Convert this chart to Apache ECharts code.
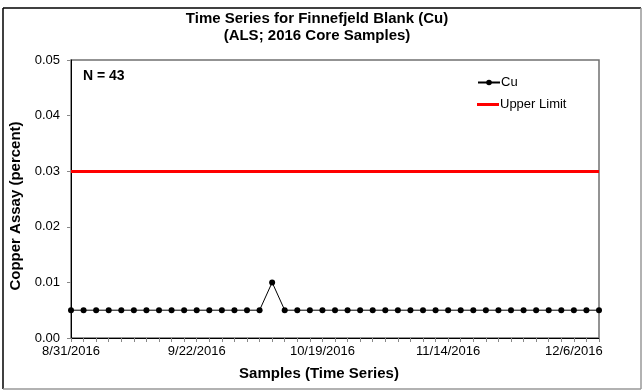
<!DOCTYPE html>
<html>
<head>
<meta charset="utf-8">
<script src="https://cdn.jsdelivr.net/npm/echarts@6/dist/echarts.min.js"></script>
<style>html,body{margin:0;padding:0;background:#fff}#c{width:642px;height:390px}</style>
</head>
<body>
<div id="c"></div>
<script>
// Sample numbers (43 samples, time order)
const samples = ['1','2','3','4','5','6','7','8','9','10','11','12','13','14','15','16','17','18','19','20','21','22','23','24','25','26','27','28','29','30','31','32','33','34','35','36','37','38','39','40','41','42','43'];
// Cu assay values (percent)
const cuValues = [0.005,0.005,0.005,0.005,0.005,0.005,0.005,0.005,0.005,0.005,0.005,0.005,0.005,0.005,0.005,0.005,0.01,0.005,0.005,0.005,0.005,0.005,0.005,0.005,0.005,0.005,0.005,0.005,0.005,0.005,0.005,0.005,0.005,0.005,0.005,0.005,0.005,0.005,0.005,0.005,0.005,0.005,0.005];
// Upper limit (percent)
const upperLimit = 0.03;
// Date tick labels shown on the x axis, by sample index
const tickIndex = [0, 10, 20, 30, 40];
const tickLabels = ['8/31/2016', '9/22/2016', '10/19/2016', '11/14/2016', '12/6/2016'];
const sampleCount = 43;

const FONT = '"Liberation Sans", Arial, sans-serif';
const chart = echarts.init(document.getElementById('c'), null, {renderer: 'canvas'});
chart.setOption({
  animation: false,
  backgroundColor: '#fff',
  title: {
    text: 'Time Series for Finnefjeld Blank (Cu)\n(ALS; 2016 Core Samples)',
    left: 312, top: 5, textAlign: 'center',
    textStyle: {fontFamily: FONT, fontWeight: 'bold', fontSize: 15, color: '#000', lineHeight: 17}
  },
  legend: [
    {
      left: 472, top: 71, itemWidth: 22, itemHeight: 7,
      textStyle: {fontFamily: FONT, fontSize: 13, color: '#000', padding: [0,0,0,-4]},
      data: ['Cu']
    },
    {
      left: 472, top: 93, itemWidth: 22, itemHeight: 3, icon: 'rect',
      textStyle: {fontFamily: FONT, fontSize: 13, color: '#000', padding: [0,0,0,-4]},
      data: ['Upper Limit']
    }
  ],
  grid: {left: 71, right: 43, top: 60, bottom: 52, show: true, borderColor: '#707070', borderWidth: 1.5, backgroundColor: 'transparent'},
  xAxis: {
    type: 'category', data: samples, boundaryGap: false,
    name: 'Samples (Time Series)', nameLocation: 'middle', nameGap: 28,
    nameTextStyle: {fontFamily: FONT, fontWeight: 'bold', fontSize: 15, color: '#000', padding: [0, 32, 0, 0]},
    axisLine: {lineStyle: {color: '#000', width: 1}},
    axisTick: {show: true, interval: 0, length: 4, lineStyle: {color: '#888'}},
    axisLabel: {
      interval: 0, margin: 7, fontFamily: FONT, fontSize: 13, color: '#000',
      formatter: function (v, i) { const k = tickIndex.indexOf(i); return k >= 0 ? tickLabels[k] : ''; }
    },
    splitLine: {show: false}
  },
  yAxis: {
    type: 'value', min: 0, max: 0.05, interval: 0.01,
    name: 'Copper Assay (percent)', nameLocation: 'middle', nameGap: 44,
    nameTextStyle: {fontFamily: FONT, fontWeight: 'bold', fontSize: 15, color: '#000', padding: [0, 14, 0, 0]},
    axisLine: {show: true, lineStyle: {color: '#000', width: 1}},
    axisTick: {show: true, length: 4, lineStyle: {color: '#888'}},
    axisLabel: {fontFamily: FONT, fontSize: 13, color: '#000', margin: 11, formatter: v => v.toFixed(2)},
    splitLine: {show: false}
  },
  graphic: [
    {type: 'text', left: 83, top: 69, style: {text: 'N = ' + sampleCount, font: 'bold 14px "Liberation Sans", Arial, sans-serif', fill: '#000'}},
    {type: 'line', shape: {x1: 3, y1: 8, x2: 641, y2: 8}, style: {stroke: '#000', lineWidth: 1.5}},
    {type: 'line', shape: {x1: 3, y1: 8, x2: 3, y2: 389}, style: {stroke: '#000', lineWidth: 1.5}},
    {type: 'line', shape: {x1: 641, y1: 8, x2: 641, y2: 389}, style: {stroke: '#999', lineWidth: 1.5}},
    {type: 'line', shape: {x1: 3, y1: 389, x2: 641, y2: 389}, style: {stroke: '#999', lineWidth: 1.5}}
  ],
  series: [
    {
      name: 'Cu', type: 'line', data: cuValues,
      color: '#000', symbol: 'circle', symbolSize: 6, showSymbol: true,
      lineStyle: {color: '#000', width: 1}, itemStyle: {color: '#000'}, z: 5
    },
    {
      name: 'Upper Limit', type: 'line', data: [], color: '#ff0000', symbol: 'none',
      lineStyle: {color: '#ff0000', width: 3}, itemStyle: {color: '#ff0000'},
      markLine: {silent: true, symbol: 'none', label: {show: false},
        lineStyle: {color: '#ff0000', width: 3, type: 'solid'},
        data: [{yAxis: upperLimit}]}
    }
  ]
});
</script>
</body>
</html>
